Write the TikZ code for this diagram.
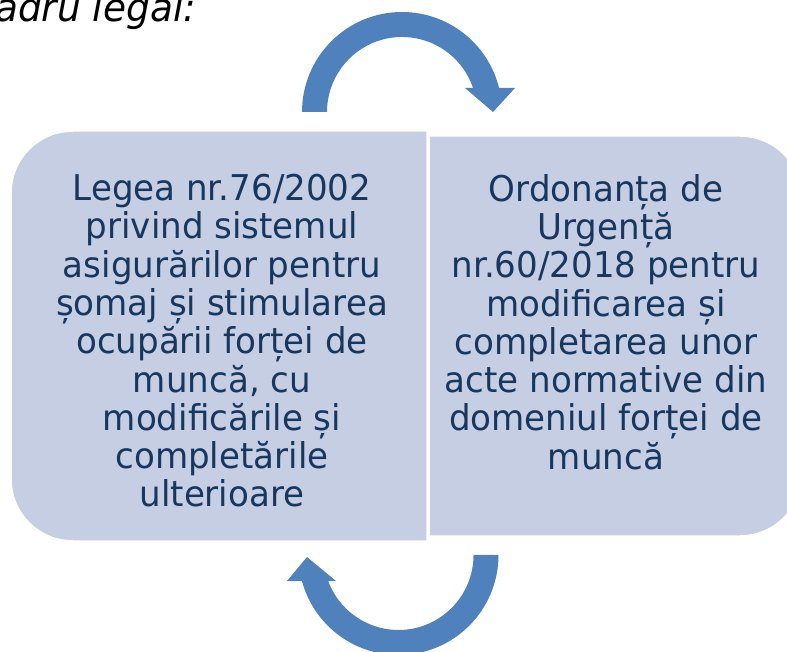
\documentclass[tikz,border=0pt]{standalone}
\usepackage{fontspec}
\setmainfont[FakeStretch=0.96]{DejaVu Sans}
\definecolor{boxfill}{HTML}{C5CEE3}
\definecolor{txtblue}{HTML}{17375E}
\definecolor{arrowblue}{HTML}{4F81BD}
\tikzset{
  panel/.style={fill=boxfill, draw=white, line width=1.5pt},
  bodytext/.style={text=txtblue, align=center, inner sep=0pt, anchor=north,
    font=\fontsize{35.5}{38.3}\selectfont},
  cyclearrow/.style={fill=arrowblue}
}
\begin{document}
\begin{tikzpicture}[x=1pt,y=-1pt]
\useasboundingbox (0,0) rectangle (787,652);
% header
\node[anchor=base west, inner sep=0pt, font=\fontsize{39}{46}\selectfont\itshape] (hdr) at (-5,22) {adru legal:};
% panels
\path[panel] (427,131) -- (73,131) arc[start angle=270,end angle=180,radius=62]
  -- (11,479) arc[start angle=180,end angle=90,radius=62] -- (427,541) -- cycle;
\path[panel] (429,136) -- (740,136) arc[start angle=270,end angle=360,radius=62]
  -- (802,474) arc[start angle=0,end angle=90,radius=62] -- (429,536) -- cycle;
% texts
\node[bodytext] (lefttext) at (222,174) {Legea nr.76/2002\\privind sistemul\\asigurărilor pentru\\șomaj și stimularea\\ocupării forței de\\muncă, cu\\modificările și\\completările\\ulterioare};
\node[bodytext] (righttext) at (606,174) {Ordonanța de\\Urgență\\nr.60/2018 pentru\\modificarea și\\completarea unor\\acte normative din\\domeniul forței de\\muncă};
% arrows
\fill[cyclearrow] (302,112) arc[start angle=180,end angle=346.1,radius=100]
  -- (515,88) -- (493,112) -- (465,88) -- (473.06,88)
  arc[start angle=341.34,end angle=180,radius=75] -- cycle;
\fill[cyclearrow] (498.5,555) arc[start angle=0,end angle=164.9,radius=100]
  -- (287,581) -- (307,557) -- (336,581) -- (328.2,581)
  arc[start angle=159.7,end angle=0,radius=75] -- cycle;
\end{tikzpicture}
\end{document}
